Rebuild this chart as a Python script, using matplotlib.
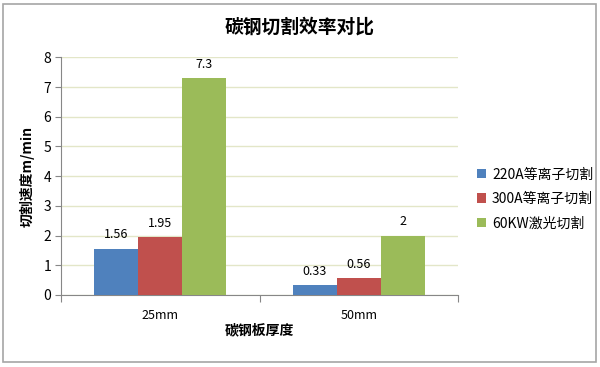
import matplotlib
matplotlib.use("Agg")
import matplotlib.pyplot as plt
import numpy as np
from matplotlib.patches import Rectangle

plt.rcParams['font.family'] = ['Noto Sans CJK SC', 'DejaVu Sans']

categories = ['25mm', '50mm']
series_names = ['220A等离子切割', '300A等离子切割', '60KW激光切割']
series_values = [
    [1.56, 0.33],
    [1.95, 0.56],
    [7.3, 2.0],
]
value_labels = [
    ['1.56', '0.33'],
    ['1.95', '0.56'],
    ['7.3', '2'],
]
colors = ['#4F81BD', '#C0504D', '#9BBB59']
yticks = [0, 1, 2, 3, 4, 5, 6, 7, 8]

fig = plt.figure(figsize=(6.0, 3.67), dpi=100)
fig.patches.append(Rectangle((3/600, 5/367), 593/600, 358/367, transform=fig.transFigure,
                             fill=False, edgecolor='#a6a6a6', linewidth=1.2))
ax = fig.add_axes([61/600, 1-295/367, 397/600, (295-57.3)/367])

x = np.arange(len(categories))
w = 0.222
for i, (name, vals, col) in enumerate(zip(series_names, series_values, colors)):
    pos = x + (i - 1) * w
    ax.bar(pos, vals, width=w, color=col, label=name, zorder=3)
    for p, v, lab in zip(pos, vals, value_labels[i]):
        ax.text(p, v + 0.25, lab, ha='center', va='bottom', fontsize=9, color='#000000')

ax.set_xlim(-0.5, 1.5)
ax.set_ylim(0, 8)
ax.set_yticks(yticks)
ax.set_yticklabels([str(t) for t in yticks], fontsize=10)
ax.yaxis.grid(True, color='#e3e6c8', linewidth=1, zorder=0)
ax.set_axisbelow(True)
ax.set_xticks([-0.5, 0.5, 1.5], minor=False)
ax.set_xticklabels(['', '', ''])
ax.set_xticks(x, minor=True)
ax.set_xticklabels(categories, minor=True, fontsize=9)
ax.tick_params(axis='x', which='minor', length=0, pad=10)
ax.tick_params(axis='x', which='major', length=5, color='#878787')
ax.tick_params(axis='y', length=4, color='#878787', pad=3)
for s in ['top', 'right']:
    ax.spines[s].set_visible(False)
for s in ['left', 'bottom']:
    ax.spines[s].set_color('#878787')

ax.set_ylabel('切割速度m/min', fontsize=10, fontweight='bold', labelpad=6)
ax.set_xlabel('碳钢板厚度', fontsize=10, fontweight='bold', labelpad=1)
fig.text(0.5, 1-27/367, '碳钢切割效率对比', ha='center', va='center', fontsize=13.5, fontweight='bold')

ax.legend(loc='center left', bbox_to_anchor=(1.035, 0.404), frameon=False, fontsize=10,
          handlelength=0.65, handleheight=0.65, handletextpad=0.4, labelspacing=0.75, borderaxespad=0)

fig.savefig('out.png', dpi=100)
